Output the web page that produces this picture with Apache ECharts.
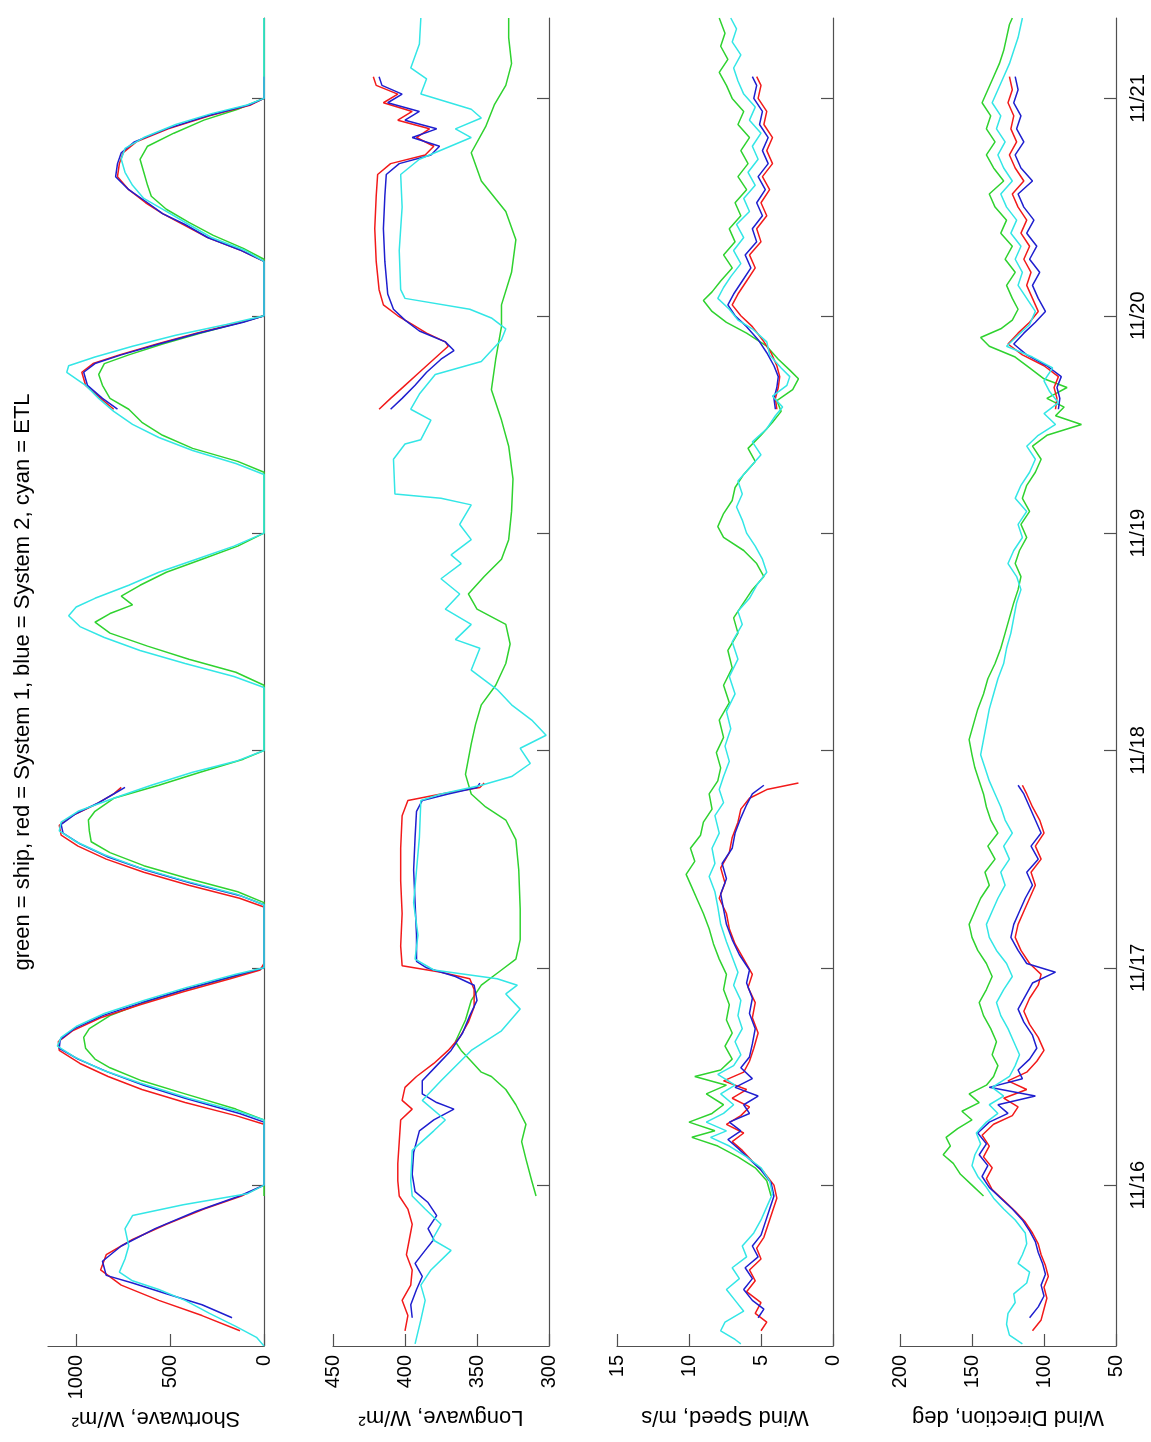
<!DOCTYPE html>
<html>
<head>
<meta charset="utf-8">
<script src="https://cdn.jsdelivr.net/npm/echarts@6/dist/echarts.min.js"></script>
<style>
  html, body { margin: 0; padding: 0; background: #fff; }
  #chart { width: 1151px; height: 1442px; }
</style>
</head>
<body>
<div id="chart"></div>
<script>
// Time in decimal days of November; each pair is [day, value].
const dayTicks = [16, 17, 18, 19, 20, 21];
const timeRange = [15.26, 21.37];

// ---- Shortwave, W/m2 ----
const swShip = [[15.95,0],[16.30,0],[16.35,150],[16.42,420],[16.48,650],[16.54,820],[16.58,900],[16.63,950],[16.68,960],[16.72,930],[16.78,820],[16.84,640],[16.90,420],[16.96,160],[17.00,0],
  [17.30,0],[17.35,140],[17.41,400],[17.47,640],[17.53,820],[17.58,920],[17.63,930],[17.68,935],[17.72,900],[17.78,800],[17.84,560],[17.90,340],[17.96,110],[18.00,0],
  [18.30,0],[18.36,150],[18.42,400],[18.48,620],[18.54,820],[18.59,900],[18.63,820],[18.67,700],[18.71,760],[18.76,660],[18.82,520],[18.88,330],[18.94,140],[19.00,0],
  [19.28,0],[19.33,140],[19.39,380],[19.45,540],[19.51,650],[19.57,720],[19.62,820],[19.68,860],[19.73,880],[19.78,850],[19.82,720],[19.87,540],[19.92,340],[19.97,120],[20.00,0],
  [20.26,0],[20.31,110],[20.37,270],[20.43,400],[20.49,520],[20.55,600],[20.60,620],[20.66,640],[20.72,660],[20.78,620],[20.84,480],[20.90,320],[20.95,140],[21.00,0],[21.37,0]];
const swSys1a = [[15.33,128],[15.40,330],[15.47,560],[15.54,760],[15.61,870],[15.68,840],[15.75,700],[15.82,520],[15.89,320],[15.95,120],[16.00,0],
  [16.28,0],[16.32,150],[16.38,420],[16.44,650],[16.50,830],[16.56,980],[16.62,1090],[16.66,1095],[16.71,1020],[16.77,870],[16.83,660],[16.89,430],[16.95,180],[16.99,20],[17.02,0],
  [17.28,0],[17.32,130],[17.38,400],[17.44,640],[17.50,840],[17.56,990],[17.61,1080],[17.655,1090],[17.70,1020],[17.75,900],[17.80,800],[17.83,760]];
const swSys1b = [[19.57,800],[19.62,870],[19.68,950],[19.74,970],[19.78,910],[19.82,770],[19.87,570],[19.92,360],[19.97,120],[20.00,0],
  [20.25,0],[20.30,120],[20.36,300],[20.42,430],[20.47,540],[20.52,630],[20.58,720],[20.64,780],[20.70,770],[20.75,750],[20.80,680],[20.86,510],[20.92,290],[20.97,70],[21.00,0],[21.10,0]];
const swSys2a = [[15.39,170],[15.45,330],[15.50,520],[15.55,700],[15.585,840],[15.65,860],[15.72,760],[15.80,580],[15.88,360],[15.95,130],[16.00,0],
  [16.29,0],[16.33,130],[16.40,420],[16.46,640],[16.52,830],[16.58,990],[16.63,1090],[16.67,1085],[16.72,1010],[16.78,860],[16.84,650],[16.90,420],[16.96,170],[17.00,0],
  [17.29,0],[17.33,120],[17.39,390],[17.45,630],[17.51,830],[17.57,980],[17.62,1070],[17.66,1080],[17.71,1000],[17.76,880],[17.81,780],[17.83,740]];
const swSys2b = [[19.57,780],[19.62,860],[19.68,940],[19.74,960],[19.78,900],[19.82,760],[19.87,560],[19.92,350],[19.97,110],[20.00,0],
  [20.25,0],[20.30,120],[20.36,300],[20.42,420],[20.47,540],[20.52,620],[20.58,720],[20.64,790],[20.70,780],[20.75,760],[20.80,690],[20.86,520],[20.92,300],[20.97,80],[21.00,0],[21.10,0]];
const swEtl = [[15.26,0],[15.30,40],[15.35,150],[15.41,290],[15.47,420],[15.52,560],[15.56,700],[15.60,770],[15.66,740],[15.72,720],[15.80,740],[15.86,700],[15.91,430],[15.96,90],[16.00,0],
  [16.30,0],[16.34,140],[16.40,400],[16.47,660],[16.53,860],[16.59,1010],[16.64,1100],[16.68,1080],[16.73,1000],[16.79,850],[16.85,640],[16.91,410],[16.97,150],[17.00,0],
  [17.29,0],[17.34,150],[17.40,420],[17.46,660],[17.52,850],[17.58,1000],[17.63,1090],[17.67,1080],[17.72,990],[17.78,800],[17.84,600],[17.90,380],[17.95,150],[18.00,0],
  [18.29,0],[18.34,160],[18.40,420],[18.46,660],[18.52,850],[18.57,980],[18.62,1040],[18.66,1000],[18.70,900],[18.76,720],[18.82,560],[18.88,360],[18.94,160],[19.00,0],
  [19.27,0],[19.32,150],[19.38,380],[19.44,560],[19.50,700],[19.56,800],[19.62,880],[19.68,950],[19.74,1050],[19.77,1040],[19.81,900],[19.86,700],[19.91,470],[19.96,200],[20.00,0],
  [20.25,0],[20.30,100],[20.36,280],[20.42,400],[20.48,520],[20.54,640],[20.60,700],[20.66,740],[20.72,760],[20.77,740],[20.82,640],[20.88,470],[20.93,280],[20.97,90],[21.00,0],[21.37,0]];

// ---- Longwave, W/m2 ----
const lwShip = [[15.95,309],[16.02,312],[16.12,316],[16.20,319],[16.28,316],[16.37,323],[16.44,330],[16.50,340],[16.52,347],[16.57,354],[16.62,361],[16.66,365],[16.76,358],[16.85,354],[16.92,347],[16.99,333],[17.04,323],[17.13,320],[17.27,320],[17.45,321],[17.59,323],[17.68,330],[17.74,344],[17.80,354],[17.89,358],[18.03,354],[18.12,351],[18.21,347],[18.30,337],[18.40,330],[18.49,327],[18.58,330],[18.65,350],[18.72,356],[18.80,345],[18.88,333],[18.97,328],[19.10,326],[19.25,325],[19.40,328],[19.52,333],[19.66,340],[19.80,337],[19.95,333],[20.05,333],[20.20,326],[20.35,323],[20.48,330],[20.62,347],[20.75,354],[20.87,344],[20.97,338],[21.06,330],[21.16,326],[21.28,328],[21.37,328]];
const lwSys1a = [[15.33,400],[15.40,398],[15.47,402],[15.54,396],[15.61,395],[15.68,399],[15.75,397],[15.82,395],[15.89,398],[15.95,404],[16.02,405],[16.10,405],[16.20,404],[16.30,403],[16.35,395],[16.39,402],[16.45,400],[16.50,392],[16.56,380],[16.62,370],[16.68,362],[16.75,356],[16.82,352],[16.90,352],[16.95,355],[16.98,375],[17.01,402],[17.10,403],[17.25,402],[17.40,403],[17.55,403],[17.70,402],[17.77,398],[17.80,375],[17.83,348],[17.85,345]];
const lwSys1b = [[19.57,418],[19.62,410],[19.68,400],[19.74,390],[19.80,380],[19.86,370],[19.88,372],[19.92,385],[19.96,395],[20.00,405],[20.05,415],[20.12,418],[20.25,420],[20.40,421],[20.55,420],[20.65,419],[20.70,410],[20.74,386],[20.78,380],[20.82,392],[20.86,383],[20.90,405],[20.94,395],[20.98,415],[21.02,405],[21.06,420],[21.10,422]];
const lwSys2a = [[15.39,395],[15.45,396],[15.52,392],[15.58,388],[15.64,393],[15.70,386],[15.75,380],[15.80,384],[15.86,378],[15.92,384],[15.97,393],[16.05,395],[16.15,394],[16.25,390],[16.30,380],[16.35,366],[16.38,378],[16.42,388],[16.48,388],[16.55,378],[16.62,368],[16.70,360],[16.78,355],[16.85,350],[16.92,352],[16.96,365],[17.00,385],[17.03,392],[17.15,392],[17.30,393],[17.45,394],[17.60,393],[17.72,392],[17.77,388],[17.80,370],[17.83,350],[17.85,348]];
const lwSys2b = [[19.57,410],[19.62,402],[19.68,393],[19.74,385],[19.80,375],[19.84,366],[19.88,372],[19.93,390],[19.98,400],[20.03,408],[20.10,412],[20.25,414],[20.40,415],[20.55,414],[20.65,413],[20.70,404],[20.74,382],[20.78,376],[20.82,395],[20.86,378],[20.90,400],[20.94,390],[20.98,412],[21.02,402],[21.06,416],[21.10,418]];
const lwEtl = [[15.27,393],[15.38,389],[15.47,386],[15.54,389],[15.61,382],[15.70,368],[15.75,381],[15.82,375],[15.89,386],[15.95,395],[16.02,396],[16.16,395],[16.25,380],[16.30,372],[16.39,388],[16.48,375],[16.62,354],[16.71,333],[16.81,320],[16.88,330],[16.92,322],[16.95,336],[16.99,380],[17.04,393],[17.15,391],[17.30,394],[17.45,392],[17.60,390],[17.77,389],[17.80,375],[17.84,347],[17.88,326],[17.94,313],[18.01,320],[18.07,302],[18.14,312],[18.21,326],[18.28,336],[18.37,354],[18.47,348],[18.51,365],[18.58,354],[18.65,372],[18.72,362],[18.79,375],[18.86,361],[18.90,368],[18.97,354],[19.04,362],[19.13,354],[19.16,375],[19.18,407],[19.34,408],[19.41,400],[19.43,389],[19.52,382],[19.57,396],[19.64,390],[19.73,379],[19.79,347],[19.89,333],[19.94,330],[19.99,340],[20.03,355],[20.08,400],[20.12,403],[20.30,404],[20.50,402],[20.65,403],[20.72,390],[20.82,354],[20.86,365],[20.91,347],[20.95,354],[21.02,389],[21.09,385],[21.14,396],[21.25,390],[21.37,389]];

// ---- Wind speed, m/s ----
const wsShip = [[15.95,4.3],[16.02,4.6],[16.08,5.4],[16.13,6.6],[16.18,8.0],[16.22,9.8],[16.25,8.2],[16.29,10.0],[16.33,8.4],[16.37,7.6],[16.42,8.8],[16.46,7.4],[16.50,9.6],[16.53,7.8],[16.58,7.0],[16.64,7.5],[16.70,7.0],[16.76,7.4],[16.83,7.2],[16.90,7.6],[16.97,7.4],[17.04,7.9],[17.11,8.3],[17.18,8.6],[17.25,9.0],[17.31,9.4],[17.37,9.8],[17.43,10.2],[17.49,9.6],[17.55,9.9],[17.61,9.2],[17.67,9.0],[17.73,8.4],[17.80,8.6],[17.86,8.0],[17.92,7.8],[17.99,8.1],[18.06,7.6],[18.14,7.9],[18.22,7.2],[18.30,7.6],[18.38,7.0],[18.46,7.3],[18.54,6.6],[18.61,6.9],[18.68,6.2],[18.74,5.6],[18.80,4.8],[18.86,5.3],[18.92,6.2],[18.98,7.6],[19.03,8.0],[19.09,7.6],[19.15,7.0],[19.21,6.8],[19.27,6.2],[19.33,5.4],[19.39,5.9],[19.45,5.0],[19.51,4.2],[19.56,3.6],[19.61,3.9],[19.66,2.8],[19.71,2.4],[19.75,3.0],[19.80,3.8],[19.86,4.6],[19.92,6.0],[19.97,7.4],[20.02,8.4],[20.07,9.0],[20.11,8.4],[20.16,7.8],[20.22,7.0],[20.28,7.6],[20.34,6.8],[20.40,7.2],[20.46,6.4],[20.52,6.8],[20.58,6.0],[20.64,6.6],[20.70,5.9],[20.76,6.4],[20.82,5.8],[20.88,6.6],[20.94,6.2],[21.00,7.0],[21.06,7.4],[21.12,7.9],[21.18,7.3],[21.24,7.8],[21.30,7.5],[21.37,7.9]];
const wsSys1a = [[15.33,5.0],[15.37,4.6],[15.41,5.4],[15.46,5.0],[15.51,6.0],[15.56,5.4],[15.61,5.8],[15.66,5.0],[15.71,5.3],[15.76,4.8],[15.82,4.5],[15.88,4.2],[15.94,3.9],[16.00,4.1],[16.06,4.8],[16.11,5.6],[16.16,6.3],[16.20,7.0],[16.24,6.2],[16.28,7.4],[16.32,6.4],[16.36,5.8],[16.40,7.0],[16.44,6.0],[16.48,7.6],[16.52,6.2],[16.57,5.8],[16.63,5.5],[16.70,5.2],[16.77,5.6],[16.84,5.4],[16.91,5.9],[16.97,5.6],[17.04,6.2],[17.11,6.8],[17.18,7.2],[17.25,7.4],[17.32,7.9],[17.39,7.5],[17.46,7.8],[17.53,7.2],[17.60,7.0],[17.67,6.6],[17.73,6.4],[17.78,5.8],[17.82,4.6],[17.85,2.4]];
const wsSys1b = [[19.57,3.9],[19.62,4.0],[19.67,3.8],[19.72,3.7],[19.77,3.9],[19.83,4.3],[19.89,4.9],[19.95,5.6],[20.00,6.4],[20.05,7.0],[20.10,6.6],[20.16,6.0],[20.22,5.4],[20.28,5.8],[20.34,5.0],[20.40,5.3],[20.46,4.6],[20.52,5.0],[20.58,4.4],[20.64,4.9],[20.70,4.2],[20.76,4.6],[20.82,4.2],[20.88,4.8],[20.94,4.6],[21.00,5.2],[21.06,5.0],[21.10,5.3]];
const wsSys2a = [[15.39,5.2],[15.43,4.8],[15.47,5.6],[15.52,6.2],[15.57,5.6],[15.62,6.1],[15.67,5.2],[15.72,5.6],[15.77,5.0],[15.83,4.7],[15.89,4.4],[15.95,4.1],[16.01,4.3],[16.07,5.0],[16.12,5.8],[16.17,6.6],[16.21,7.3],[16.25,6.4],[16.29,7.2],[16.33,5.8],[16.37,6.2],[16.41,5.2],[16.45,6.8],[16.49,5.6],[16.54,6.4],[16.59,5.8],[16.65,5.6],[16.72,5.4],[16.79,5.8],[16.86,5.6],[16.93,6.0],[16.99,5.8],[17.06,6.5],[17.13,7.0],[17.20,7.4],[17.27,7.6],[17.34,7.8],[17.41,7.4],[17.48,7.7],[17.55,7.0],[17.62,6.8],[17.69,6.4],[17.75,6.0],[17.80,5.6],[17.84,4.8]];
const wsSys2b = [[19.57,4.0],[19.62,4.1],[19.67,3.9],[19.72,3.8],[19.77,4.1],[19.83,4.6],[19.89,5.2],[19.95,6.0],[20.00,6.8],[20.05,7.3],[20.10,6.9],[20.16,6.3],[20.22,5.7],[20.28,6.1],[20.34,5.3],[20.40,5.6],[20.46,4.9],[20.52,5.3],[20.58,4.7],[20.64,5.2],[20.70,4.5],[20.76,4.9],[20.82,4.5],[20.88,5.1],[20.94,4.9],[21.00,5.5],[21.06,5.3],[21.10,5.6]];
const wsEtl = [[15.27,6.4],[15.29,6.8],[15.33,7.8],[15.37,7.5],[15.42,6.2],[15.47,6.8],[15.52,7.4],[15.57,6.5],[15.62,7.0],[15.67,6.0],[15.72,6.3],[15.78,5.5],[15.84,5.0],[15.90,4.6],[15.96,4.2],[16.02,4.4],[16.08,5.0],[16.13,6.0],[16.18,7.2],[16.22,8.5],[16.25,7.4],[16.29,8.8],[16.33,7.6],[16.37,6.9],[16.42,7.8],[16.46,6.8],[16.51,8.0],[16.55,6.9],[16.60,6.4],[16.66,6.8],[16.72,6.3],[16.78,6.6],[16.85,6.4],[16.92,6.9],[16.98,6.6],[17.05,7.0],[17.12,7.4],[17.20,7.8],[17.28,8.0],[17.35,8.2],[17.42,8.6],[17.48,8.2],[17.55,8.4],[17.62,7.9],[17.70,8.2],[17.76,7.6],[17.82,7.9],[17.88,7.6],[17.95,7.2],[18.02,7.5],[18.10,7.1],[18.18,7.4],[18.26,6.8],[18.34,7.2],[18.42,6.6],[18.50,7.0],[18.58,6.3],[18.64,6.6],[18.70,5.8],[18.76,5.3],[18.82,4.6],[18.88,4.9],[18.94,5.4],[19.00,6.0],[19.06,6.3],[19.12,6.7],[19.18,6.3],[19.24,6.6],[19.30,5.8],[19.36,5.0],[19.42,5.6],[19.48,4.6],[19.54,4.0],[19.58,3.5],[19.63,4.2],[19.68,3.2],[19.72,3.0],[19.76,3.6],[19.82,4.4],[19.88,4.6],[19.94,5.6],[19.98,6.6],[20.03,7.2],[20.08,8.0],[20.13,7.6],[20.18,7.1],[20.24,6.4],[20.30,6.9],[20.36,6.2],[20.42,6.7],[20.48,5.8],[20.54,6.2],[20.60,5.4],[20.66,5.9],[20.72,5.2],[20.78,5.6],[20.84,5.0],[20.90,5.8],[20.96,5.4],[21.02,6.2],[21.08,6.6],[21.14,6.9],[21.20,6.4],[21.26,7.0],[21.32,6.7],[21.37,7.1]];

// ---- Wind direction, deg ----
const wdShip = [[15.95,142],[16.00,150],[16.05,158],[16.10,163],[16.14,170],[16.18,165],[16.22,168],[16.26,160],[16.30,150],[16.34,157],[16.38,145],[16.42,152],[16.46,140],[16.50,135],[16.55,132],[16.60,136],[16.66,133],[16.72,137],[16.78,142],[16.84,145],[16.90,140],[16.96,136],[17.02,140],[17.08,146],[17.14,150],[17.20,152],[17.26,148],[17.32,144],[17.38,138],[17.44,141],[17.50,134],[17.56,139],[17.62,132],[17.68,137],[17.74,140],[17.80,142],[17.86,145],[17.92,148],[17.98,150],[18.05,152],[18.12,149],[18.19,146],[18.26,142],[18.33,139],[18.40,134],[18.47,130],[18.54,127],[18.61,124],[18.68,121],[18.74,118],[18.80,116],[18.86,120],[18.92,117],[18.98,112],[19.04,116],[19.10,110],[19.16,115],[19.22,112],[19.28,106],[19.34,102],[19.40,108],[19.45,98],[19.50,74],[19.54,92],[19.58,86],[19.62,98],[19.67,84],[19.71,100],[19.76,110],[19.81,120],[19.86,138],[19.90,144],[19.94,130],[19.98,122],[20.03,118],[20.08,122],[20.14,126],[20.20,120],[20.26,127],[20.32,122],[20.38,130],[20.44,126],[20.50,134],[20.56,138],[20.62,128],[20.68,135],[20.74,140],[20.80,134],[20.86,140],[20.92,137],[20.98,143],[21.04,139],[21.10,135],[21.16,131],[21.22,128],[21.28,126],[21.34,124],[21.37,122]];
const wdSys1a = [[15.33,108],[15.38,102],[15.43,100],[15.48,98],[15.53,100],[15.58,97],[15.63,99],[15.68,102],[15.73,104],[15.78,108],[15.83,113],[15.88,120],[15.93,128],[15.98,136],[16.03,140],[16.08,136],[16.13,142],[16.18,138],[16.23,143],[16.28,135],[16.32,122],[16.36,118],[16.40,128],[16.44,112],[16.48,125],[16.52,112],[16.57,105],[16.62,100],[16.68,104],[16.74,110],[16.80,114],[16.86,110],[16.92,104],[16.97,102],[17.02,110],[17.08,116],[17.14,120],[17.20,118],[17.26,114],[17.32,110],[17.38,106],[17.44,109],[17.50,102],[17.56,106],[17.62,100],[17.68,103],[17.74,108],[17.80,112],[17.84,115]];
const wdSys1b = [[19.57,92],[19.62,91],[19.67,93],[19.72,90],[19.77,100],[19.82,115],[19.87,125],[19.92,118],[19.97,110],[20.02,104],[20.08,108],[20.14,112],[20.20,109],[20.26,114],[20.32,110],[20.38,116],[20.44,112],[20.50,118],[20.56,122],[20.62,114],[20.68,120],[20.74,124],[20.80,119],[20.86,123],[20.92,121],[20.98,125],[21.04,122],[21.10,124]];
const wdSys2a = [[15.39,110],[15.44,104],[15.49,100],[15.54,102],[15.59,99],[15.64,101],[15.69,104],[15.74,106],[15.79,110],[15.84,115],[15.89,122],[15.94,130],[15.99,138],[16.04,143],[16.09,139],[16.14,145],[16.19,140],[16.24,146],[16.29,138],[16.33,125],[16.37,132],[16.41,106],[16.45,138],[16.49,115],[16.53,118],[16.58,110],[16.63,105],[16.69,108],[16.75,114],[16.81,118],[16.87,113],[16.93,108],[16.98,92],[17.02,112],[17.08,118],[17.14,123],[17.20,121],[17.26,117],[17.32,113],[17.38,108],[17.44,112],[17.50,104],[17.56,109],[17.62,102],[17.68,106],[17.74,110],[17.80,114],[17.84,118]];
const wdSys2b = [[19.57,90],[19.62,89],[19.67,91],[19.72,88],[19.77,98],[19.82,112],[19.87,121],[19.92,114],[19.97,106],[20.02,99],[20.08,104],[20.14,108],[20.20,103],[20.26,110],[20.32,105],[20.38,112],[20.44,107],[20.50,114],[20.56,118],[20.62,108],[20.68,116],[20.74,120],[20.80,114],[20.86,119],[20.92,116],[20.98,121],[21.04,118],[21.10,120]];
const wdEtl = [[15.27,115],[15.31,124],[15.36,126],[15.41,125],[15.46,120],[15.50,121],[15.55,112],[15.60,110],[15.64,118],[15.68,115],[15.73,112],[15.78,113],[15.84,120],[15.89,128],[15.94,135],[15.99,140],[16.04,146],[16.09,150],[16.14,148],[16.19,144],[16.24,147],[16.29,140],[16.33,132],[16.37,138],[16.41,128],[16.45,136],[16.50,124],[16.55,120],[16.60,117],[16.66,121],[16.72,125],[16.78,130],[16.84,133],[16.90,128],[16.96,122],[17.02,126],[17.08,133],[17.14,138],[17.20,140],[17.26,136],[17.32,132],[17.38,127],[17.44,130],[17.50,124],[17.56,128],[17.62,122],[17.68,127],[17.74,130],[17.80,134],[17.86,138],[17.92,141],[17.98,144],[18.05,142],[18.12,140],[18.19,138],[18.26,135],[18.33,132],[18.40,128],[18.47,126],[18.54,123],[18.61,121],[18.68,119],[18.74,116],[18.80,119],[18.86,125],[18.92,121],[18.98,115],[19.04,118],[19.10,112],[19.16,120],[19.22,116],[19.28,110],[19.34,106],[19.40,112],[19.45,104],[19.50,92],[19.55,100],[19.60,90],[19.65,96],[19.70,100],[19.76,94],[19.81,108],[19.86,126],[19.91,118],[19.96,110],[20.02,106],[20.08,112],[20.14,118],[20.20,115],[20.26,120],[20.32,116],[20.38,123],[20.44,119],[20.50,126],[20.56,130],[20.62,122],[20.68,128],[20.74,132],[20.80,127],[20.86,133],[20.92,130],[20.98,136],[21.04,132],[21.10,128],[21.16,124],[21.22,121],[21.28,118],[21.34,116],[21.37,115]];

// Panel definitions: value-axis range and tick step, axis title
const panelNames = ['Shortwave, W/m\u00b2', 'Longwave, W/m\u00b2', 'Wind Speed, m/s', 'Wind Direction, deg'];
const panelRanges = [[0, 1150, 500], [300, 450, 50], [0, 15, 5], [50, 200, 50]];
const panelSeries = [
  { ship: [swShip], sys1: [swSys1a, swSys1b], sys2: [swSys2a, swSys2b], etl: [swEtl] },
  { ship: [lwShip], sys1: [lwSys1a, lwSys1b], sys2: [lwSys2a, lwSys2b], etl: [lwEtl] },
  { ship: [wsShip], sys1: [wsSys1a, wsSys1b], sys2: [wsSys2a, wsSys2b], etl: [wsEtl] },
  { ship: [wdShip], sys1: [wdSys1a, wdSys1b], sys2: [wdSys2a, wdSys2b], etl: [wdEtl] }
];
const lineColors = { ship: '#2fd22f', sys1: '#f21a1a', sys2: '#1f1fcf', etl: '#33e6e6' };
const drawOrder = ['ship', 'sys1', 'sys2', 'etl'];

const FONT = '"Liberation Sans", Arial, Helvetica, sans-serif';
const AXIS_COLOR = '#505050';
const panelLeft = [48, 333, 617, 900];
const panelWidth = 216;
const plotTop = 18, plotHeight = 1328;

const grids = [], xAxes = [], yAxes = [], series = [];
panelLeft.forEach((left, i) => {
  grids.push({ left: left, top: plotTop, width: panelWidth, height: plotHeight, containLabel: false });
  const r = panelRanges[i];
  xAxes.push({
    gridIndex: i, type: 'value', inverse: true, position: 'bottom',
    min: r[0], max: r[1], interval: r[2],
    name: panelNames[i], nameLocation: 'middle', nameGap: 60, nameRotate: 180,
    nameTextStyle: { fontFamily: FONT, fontSize: 22, color: '#000' },
    axisLine: { show: true, onZero: false, lineStyle: { color: AXIS_COLOR, width: 1.2 } },
    axisTick: { show: true, inside: true, length: 12, lineStyle: { color: AXIS_COLOR, width: 1.2 } },
    axisLabel: {
      show: true, rotate: 90, margin: 9, fontFamily: FONT, fontSize: 20, color: '#000',
      showMaxLabel: i !== 0, formatter: v => String(v)
    },
    splitLine: { show: false }
  });
  yAxes.push({
    gridIndex: i, type: 'value', position: 'right',
    min: timeRange[0], max: timeRange[1],
    axisLine: { show: true, onZero: false, lineStyle: { color: AXIS_COLOR, width: 1.2 } },
    axisTick: { show: true, inside: true, length: 12, customValues: dayTicks, lineStyle: { color: AXIS_COLOR, width: 1.2 } },
    axisLabel: {
      show: i === 3, rotate: 90, margin: 12, customValues: dayTicks,
      fontFamily: FONT, fontSize: 20, color: '#000',
      formatter: v => '11/' + Math.round(v)
    },
    splitLine: { show: false }
  });
  drawOrder.forEach(key => {
    panelSeries[i][key].forEach(arr => {
      series.push({
        type: 'line', xAxisIndex: i, yAxisIndex: i,
        data: arr.map(p => [p[1], p[0]]),
        showSymbol: false, symbol: 'none', silent: true,
        lineStyle: { color: lineColors[key], width: 1.5 },
        animation: false
      });
    });
  });
});

const chart = echarts.init(document.getElementById('chart'), null, { renderer: 'canvas' });
chart.setOption({
  backgroundColor: '#fff',
  animation: false,
  grid: grids,
  xAxis: xAxes,
  yAxis: yAxes,
  series: series,
  graphic: [{
    type: 'text', x: 23, y: 682, rotation: Math.PI / 2,
    style: {
      text: 'green = ship, red = System 1, blue = System 2, cyan = ETL',
      font: '22px ' + FONT, fill: '#000', textAlign: 'center', textVerticalAlign: 'middle'
    }
  }]
});
</script>
</body>
</html>
